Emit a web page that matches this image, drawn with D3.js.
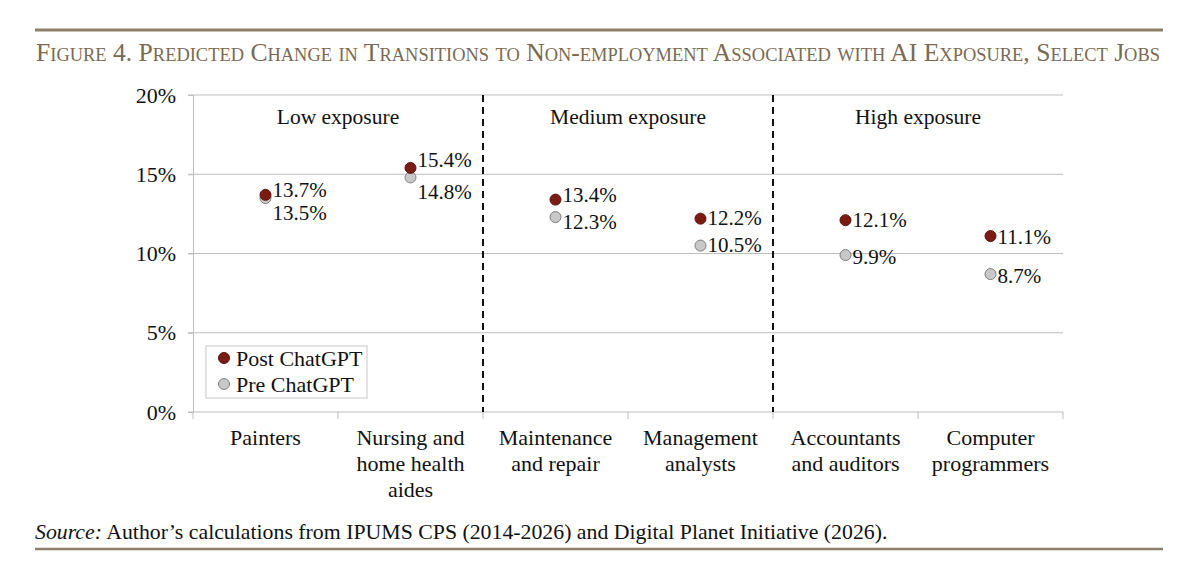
<!DOCTYPE html>
<html>
<head>
<meta charset="utf-8">
<script src="https://cdn.jsdelivr.net/npm/d3@7"></script>
<style>
  html, body { margin: 0; padding: 0; background: #fff; }
  svg text { font-family: "Liberation Serif", "Times New Roman", serif; fill: #111; }
</style>
</head>
<body>
<div id="chart"></div>
<script>
// Figure 4 - dot chart, pre vs post ChatGPT transitions to non-employment

const jobs = ['Painters', 'Nursing and home health aides', 'Maintenance and repair',
  'Management analysts', 'Accountants and auditors', 'Computer programmers'];
const jobLines = [['Painters'], ['Nursing and', 'home health', 'aides'], ['Maintenance', 'and repair'],
  ['Management', 'analysts'], ['Accountants', 'and auditors'], ['Computer', 'programmers']];
const postChatGPT = [13.7, 15.4, 13.4, 12.2, 12.1, 11.1];
const preChatGPT = [13.5, 14.8, 12.3, 10.5, 9.9, 8.7];
const yTicks = [0, 5, 10, 15, 20];
const groups = ['Low exposure', 'Medium exposure', 'High exposure'];
const seriesNames = ['Post ChatGPT', 'Pre ChatGPT'];

// label nudges (px) so the labels don't collide, as in the original
const postNudge = [-5, -8, -5, -1, 0, 1];
const preNudge = [15, 15, 5, -1, 2, 2];

const W = 1200, H = 586;
const plot = { left: 193, right: 1063, top: 95, bottom: 412 };
const ruleColor = '#8c7e68';

const svg = d3.select('#chart').append('svg')
  .attr('width', W)
  .attr('height', H);

// top and bottom rules
svg.append('line')
  .attr('x1', 35).attr('x2', 1163).attr('y1', 30).attr('y2', 30)
  .attr('stroke', ruleColor).attr('stroke-width', 3);
svg.append('line')
  .attr('x1', 35).attr('x2', 1163).attr('y1', 549).attr('y2', 549)
  .attr('stroke', ruleColor).attr('stroke-width', 2.5);

svg.append('text')
  .attr('x', 36)
  .attr('y', 61)
  .attr('textLength', 1124)
  .attr('lengthAdjust', 'spacingAndGlyphs')
  .style('font-variant', 'small-caps')
  .style('font-size', '25px')
  .style('fill', '#7a6a52')
  .text('Figure 4. Predicted Change in Transitions to Non-employment Associated with AI Exposure, Select Jobs');

const x = d3.scaleBand().domain(jobs).range([plot.left, plot.right]);
const y = d3.scaleLinear().domain([0, 20]).range([plot.bottom, plot.top]);

// gridlines
svg.append('g')
  .selectAll('line')
  .data(yTicks.filter(d => d > 0))
  .join('line')
  .attr('x1', plot.left - 5)
  .attr('x2', plot.right)
  .attr('y1', d => y(d))
  .attr('y2', d => y(d))
  .attr('stroke', '#bdbdbd')
  .attr('stroke-width', 1);

// y axis
const yAxis = svg.append('g')
  .attr('transform', `translate(${plot.left},0)`)
  .call(d3.axisLeft(y).tickValues(yTicks).tickSize(5).tickPadding(12).tickFormat(d => d + '%'));
yAxis.select('.domain').attr('stroke', '#bdbdbd');
yAxis.selectAll('.tick line').attr('stroke', '#bdbdbd');
yAxis.selectAll('.tick text').style('font-size', '22px').attr('fill', '#111');

// x axis: baseline with ticks at band edges
svg.append('line')
  .attr('x1', plot.left - 5).attr('x2', plot.right)
  .attr('y1', plot.bottom).attr('y2', plot.bottom)
  .attr('stroke', '#bdbdbd');
const edges = jobs.map(j => x(j)).concat([plot.right]);
svg.append('g')
  .selectAll('line')
  .data(edges)
  .join('line')
  .attr('x1', d => d).attr('x2', d => d)
  .attr('y1', plot.bottom).attr('y2', plot.bottom + 7)
  .attr('stroke', '#bdbdbd');

// category labels
const catG = svg.append('g');
jobs.forEach((j, i) => {
  const t = catG.append('text')
    .attr('text-anchor', 'middle')
    .attr('y', 445)
    .style('font-size', '22px');
  jobLines[i].forEach((ln, k) => {
    t.append('tspan')
      .attr('x', x(j) + x.bandwidth() / 2)
      .attr('dy', k === 0 ? 0 : 26)
      .text(ln);
  });
});

// dashed separators between exposure groups
[jobs[2], jobs[4]].forEach(j => {
  svg.append('line')
    .attr('x1', x(j)).attr('x2', x(j))
    .attr('y1', plot.top).attr('y2', plot.bottom)
    .attr('stroke', '#111')
    .attr('stroke-width', 2)
    .attr('stroke-dasharray', '7,5');
});

// group labels
groups.forEach((g, i) => {
  svg.append('text')
    .attr('x', x(jobs[i * 2]) + x.bandwidth())
    .attr('y', 124)
    .attr('text-anchor', 'middle')
    .style('font-size', '21.5px')
    .text(g);
});

const cx = j => x(j) + x.bandwidth() / 2;

// pre (grey) markers first, post drawn on top
svg.append('g')
  .selectAll('circle')
  .data(jobs)
  .join('circle')
  .attr('cx', d => cx(d))
  .attr('cy', (d, i) => y(preChatGPT[i]))
  .attr('r', 5.5)
  .attr('fill', '#c8c8c8')
  .attr('stroke', '#7f7f7f')
  .attr('stroke-width', 1);

svg.append('g')
  .selectAll('circle')
  .data(jobs)
  .join('circle')
  .attr('cx', d => cx(d))
  .attr('cy', (d, i) => y(postChatGPT[i]))
  .attr('r', 5.5)
  .attr('fill', '#7a1c14')
  .attr('stroke', '#5a120c')
  .attr('stroke-width', 1);

// value labels
svg.append('g')
  .selectAll('text')
  .data(jobs)
  .join('text')
  .attr('x', d => cx(d) + 7)
  .attr('y', (d, i) => y(postChatGPT[i]) + postNudge[i])
  .attr('dominant-baseline', 'central')
  .style('font-size', '21px')
  .text((d, i) => postChatGPT[i].toFixed(1) + '%');

svg.append('g')
  .selectAll('text')
  .data(jobs)
  .join('text')
  .attr('x', d => cx(d) + 7)
  .attr('y', (d, i) => y(preChatGPT[i]) + preNudge[i])
  .attr('dominant-baseline', 'central')
  .style('font-size', '21px')
  .text((d, i) => preChatGPT[i].toFixed(1) + '%');

// legend
const leg = svg.append('g').attr('transform', 'translate(206,346)');
leg.append('rect')
  .attr('width', 161).attr('height', 52)
  .attr('fill', '#fff')
  .attr('stroke', '#c8c8c8');
seriesNames.forEach((s, i) => {
  leg.append('circle')
    .attr('cx', 18).attr('cy', 12 + i * 26)
    .attr('r', 5.5)
    .attr('fill', i === 0 ? '#7a1c14' : '#c8c8c8')
    .attr('stroke', i === 0 ? '#5a120c' : '#7f7f7f');
  leg.append('text')
    .attr('x', 30).attr('y', 12 + i * 26)
    .attr('dominant-baseline', 'central')
    .style('font-size', '22px')
    .text(s);
});

// source note
const src = svg.append('text')
  .attr('x', 35)
  .attr('y', 539)
  .style('font-size', '21.8px');
src.append('tspan').style('font-style', 'italic').text('Source:');
src.append('tspan').text(' Author\u2019s calculations from IPUMS CPS (2014-2026) and Digital Planet Initiative (2026).');
</script>
</body>
</html>
